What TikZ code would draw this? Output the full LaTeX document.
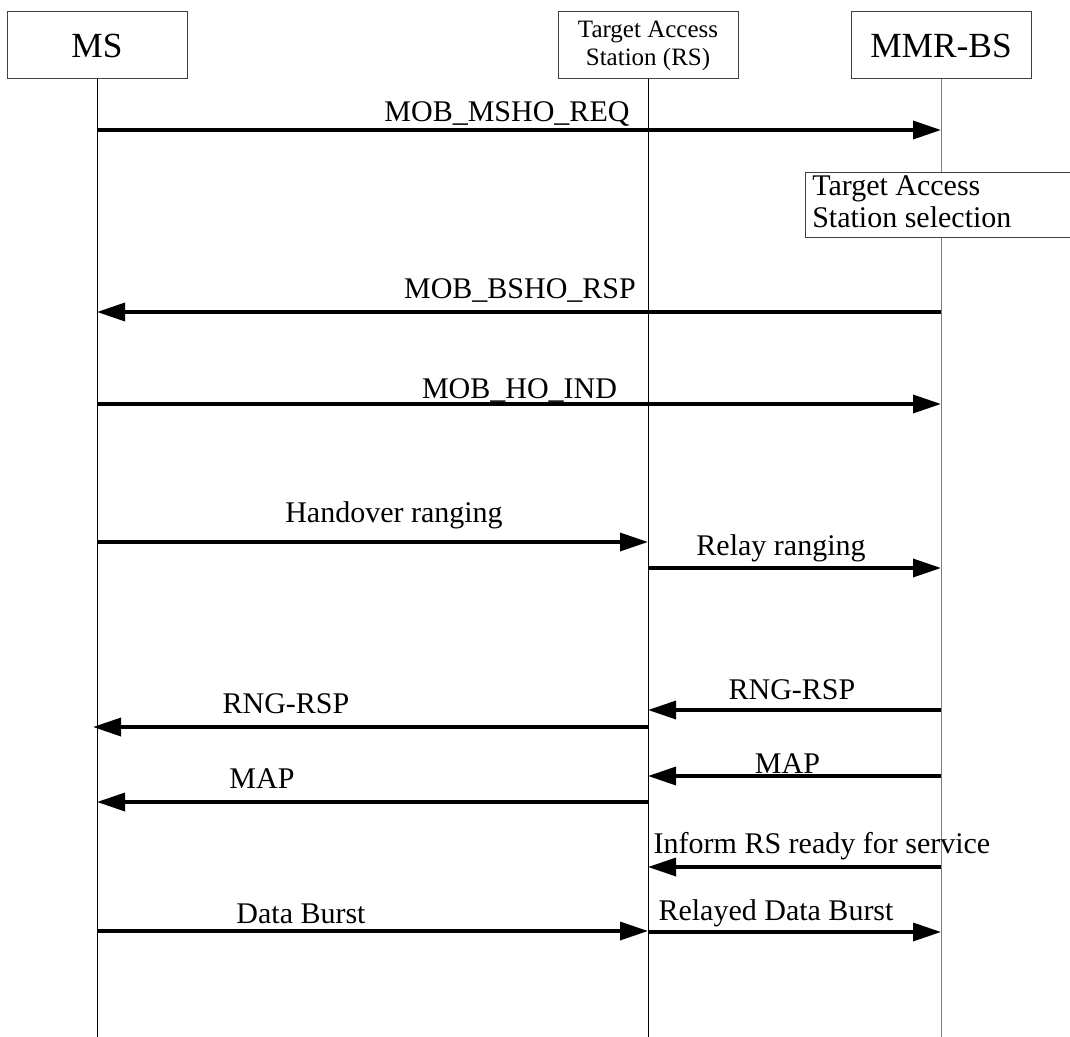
\documentclass[tikz,border=0pt]{standalone}
\usepackage{fontspec}
\setmainfont{Liberation Serif}
\usetikzlibrary{arrows.meta}
\begin{document}
\begin{tikzpicture}[x=0.75pt, y=-0.75pt,
  actor/.style={draw=black!75, line width=0.75pt, minimum width=135pt, minimum height=50.25pt, inner sep=0pt},
  bigtxt/.style={font=\fontsize{26.5}{30}\selectfont},
  life/.style={line width=0.75pt},
  msg/.style={line width=2.6pt, -{Triangle[length=21pt,width=13.5pt]}},
  lbl/.style={anchor=base, inner sep=0pt, font=\fontsize{22.5}{27}\selectfont}]
\useasboundingbox (0,0) rectangle (1070,1037);

% actors
\node[actor, bigtxt] (ms) at (97,45.5) {MS};
\node[actor, align=center, font=\fontsize{18.75}{21}\selectfont] (rs) at (648,45.5) {Target Access\\Station (RS)};
\node[actor, bigtxt] (bs) at (941,45.5) {MMR-BS};

% lifelines
\coordinate (msend) at (97,1037);
\coordinate (rsend) at (648,1037);
\coordinate (bsend) at (941,1037);
\draw[life] (ms.south) -- (msend);
\draw[life] (rs.south) -- (rsend);
\draw[life, draw=black!50] (bs.south) -- (bsend);

% selection box
\node[draw=black!75, fill=white, line width=0.75pt, anchor=north west, minimum width=202.5pt, minimum height=48.75pt, inner sep=0pt] (selbox) at (805,172) {};
\node[lbl, anchor=base west] (sel1) at (812,196) {Target Access};
\node[lbl, anchor=base west] (sel2) at (812,228) {Station selection};

% messages
\draw[msg] (ms |- 0,130) -- (bs |- 0,130);
\node[lbl] (m1) at (507,122) {MOB\_MSHO\_REQ};

\draw[msg] (bs |- 0,312) -- (ms |- 0,312);
\node[lbl] (m2) at (520,299) {MOB\_BSHO\_RSP};

\draw[msg] (ms |- 0,404) -- (bs |- 0,404);
\node[lbl] (m3) at (519.5,398) {MOB\_HO\_IND};

\draw[msg] (ms |- 0,542) -- (rs |- 0,542);
\node[lbl] (m4) at (394,522) {Handover ranging};

\draw[msg] (rs |- 0,568) -- (bs |- 0,568);
\node[lbl] (m5) at (781,555) {Relay ranging};

\draw[msg] (bs |- 0,710) -- (rs |- 0,710);
\node[lbl] (m6) at (792,699) {RNG-RSP};

\coordinate (rngtip) at (93,727);
\draw[msg] (rs |- 0,727) -- (rngtip);
\node[lbl] (m7) at (286,713) {RNG-RSP};

\draw[msg] (bs |- 0,776) -- (rs |- 0,776);
\node[lbl] (m8) at (787.5,773) {MAP};

\draw[msg] (rs |- 0,802) -- (ms |- 0,802);
\node[lbl] (m9) at (262,788) {MAP};

\draw[msg] (bs |- 0,867) -- (rs |- 0,867);
\node[lbl] (m10) at (822,853) {Inform RS ready for service};

\draw[msg] (ms |- 0,931) -- (rs |- 0,931);
\node[lbl] (m11) at (301,923) {Data Burst};

\draw[msg] (rs |- 0,932) -- (bs |- 0,932);
\node[lbl] (m12) at (776,920) {Relayed Data Burst};
\end{tikzpicture}
\end{document}
